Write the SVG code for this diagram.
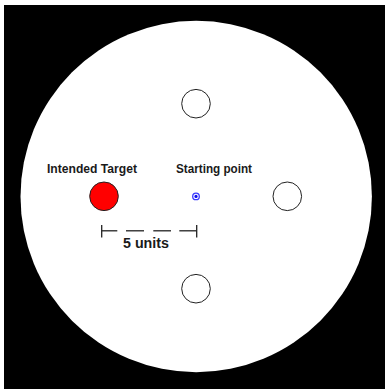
<svg xmlns="http://www.w3.org/2000/svg" width="385" height="389" viewBox="0 0 385 389">
<style>
.hole{fill:#fff;stroke:#222;stroke-width:1}
.lbl{font-family:"Liberation Sans",Arial,sans-serif;font-weight:bold;fill:#1a1a1a}
.dim{stroke:#222;stroke-width:1.3;fill:none}
</style>
<rect x="0" y="0" width="385" height="389" fill="#fff"/>
<rect x="4" y="5" width="381" height="384" fill="#000"/>
<circle cx="196.2" cy="196.5" r="175.7" fill="#fff"/>
<g id="top-hole"><circle class="hole" cx="196" cy="103.7" r="14.3"/></g>
<g id="right-hole"><circle class="hole" cx="287.3" cy="196.3" r="14.3"/></g>
<g id="bottom-hole"><circle class="hole" cx="196" cy="288.7" r="14.3"/></g>
<g id="intended-target">
<circle cx="104" cy="196.3" r="14.3" fill="#f00" stroke="#222" stroke-width="1"/>
<text class="lbl" x="47" y="173" font-size="12" textLength="90" lengthAdjust="spacingAndGlyphs">Intended Target</text>
</g>
<g id="starting-point">
<circle cx="196" cy="196.4" r="3.3" fill="none" stroke="#3a3aff" stroke-width="1.3"/>
<circle cx="196" cy="196.4" r="1.6" fill="#1010ee"/>
<text class="lbl" x="176" y="173" font-size="12" textLength="76" lengthAdjust="spacingAndGlyphs">Starting point</text>
</g>
<g id="connectors">
<line class="dim" x1="101.7" y1="225" x2="101.7" y2="237.5"/>
<line class="dim" x1="196.7" y1="225" x2="196.7" y2="237.5"/>
<line class="dim" x1="101.7" y1="230.8" x2="117.3" y2="230.8"/>
<line class="dim" x1="126" y1="230.8" x2="144" y2="230.8"/>
<line class="dim" x1="153.3" y1="230.8" x2="171" y2="230.8"/>
<line class="dim" x1="179.3" y1="230.8" x2="196.7" y2="230.8"/>
<text class="lbl" x="123" y="247.7" font-size="14" textLength="46" lengthAdjust="spacingAndGlyphs">5 units</text>
</g>
</svg>
